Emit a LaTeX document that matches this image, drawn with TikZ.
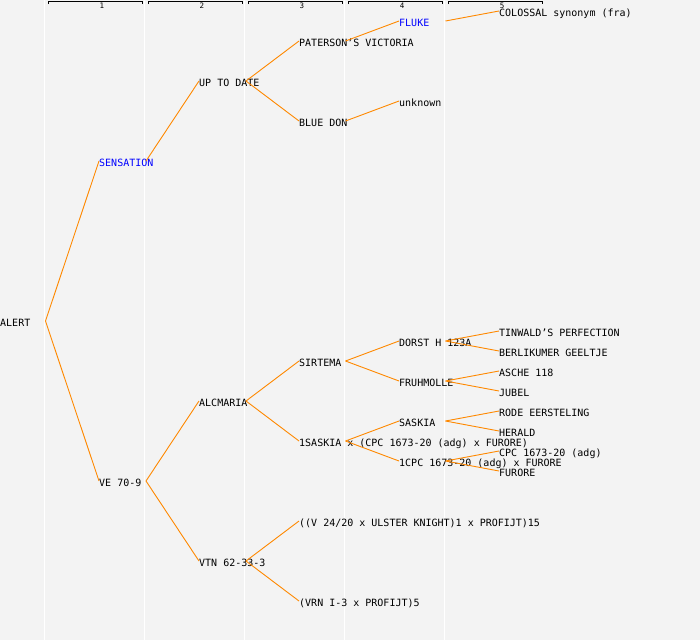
\documentclass[tikz,border=0pt]{standalone}
\usepackage{fontspec}
\newfontfamily\pedmono{DejaVu Sans Mono}
\definecolor{bgcol}{RGB}{243,243,243}
\definecolor{linkcol}{RGB}{255,136,0}
\definecolor{namecol}{RGB}{0,0,255}
\tikzset{
  lbl/.style={anchor=base west, inner sep=0pt, font=\pedmono\fontsize{10}{12}\selectfont, text=black},
  blu/.style={lbl, text=namecol},
  num/.style={inner sep=0pt, font=\pedmono\fontsize{7.5}{8}\selectfont},
  link/.style={draw=linkcol, line width=0.9pt},
  grid/.style={draw=white, line width=1pt},
  hdr/.style={draw=black, line width=0.9pt}
}
\newcommand\pedlink[3][47]{\draw[link] ([xshift=#1pt,yshift=5pt]#2.base west) -- ([yshift=5pt]#3.base west);}
\begin{document}
\begin{tikzpicture}[x=1pt,y=-1pt]
\useasboundingbox (0,0) rectangle (700,640);
\fill[bgcol] (0,0) rectangle (700,640);
% column lines
\foreach \gx in {44.5,144.5,244.5,344.5,444.5} \draw[grid] (\gx,0) -- (\gx,640);
% header
\foreach \k/\a/\b in {1/48.5/142.5,2/148.5/242.5,3/248.5/342.5,4/348.5/442.5,5/448.5/542.5}{
  \draw[hdr] (\a,4.2) -- (\a,1.5) -- (\b,1.5) -- (\b,4.2);
}
\node[num] (n1) at (102,5.8) {1};
\node[num] (n2) at (202,5.8) {2};
\node[num] (n3) at (302,5.8) {3};
\node[num] (n4) at (402,5.8) {4};
\node[num] (n5) at (502,5.8) {5};
% level 0
\node[lbl] (alert) at (0,326) {ALERT};
% level 1
\node[blu] (sens) at (99,166) {SENSATION};
\node[lbl] (ve) at (99,486) {VE 70-9};
% level 2
\node[lbl] (utd) at (199,86) {UP TO DATE};
\node[lbl] (alc) at (199,406) {ALCMARIA};
\node[lbl] (vtn) at (199,566) {VTN 62-33-3};
% level 3
\node[lbl] (pat) at (299,46) {PATERSON’S VICTORIA};
\node[lbl] (bdon) at (299,126) {BLUE DON};
\node[lbl] (sirt) at (299,366) {SIRTEMA};
\node[lbl] (sask1) at (299,446) {1SASKIA x (CPC 1673-20 (adg) x FURORE)};
\node[lbl] (vul) at (299,526) {((V 24/20 x ULSTER KNIGHT)1 x PROFIJT)15};
\node[lbl] (vrn) at (299,606) {(VRN I-3 x PROFIJT)5};
% level 4
\node[blu] (fluke) at (399,26) {FLUKE};
\node[lbl] (unk) at (399,106) {unknown};
\node[lbl] (dorst) at (399,346) {DORST H 123A};
\node[lbl] (fruh) at (399,386) {FRUHMOLLE};
\node[lbl] (sask) at (399,426) {SASKIA};
\node[lbl] (cpc1) at (399,466) {1CPC 1673-20 (adg) x FURORE};
% level 5
\node[lbl] (colo) at (499,16) {COLOSSAL synonym (fra)};
\node[lbl] (tin) at (499,336) {TINWALD’S PERFECTION};
\node[lbl] (berl) at (499,356) {BERLIKUMER GEELTJE};
\node[lbl] (asch) at (499,376) {ASCHE 118};
\node[lbl] (jub) at (499,396) {JUBEL};
\node[lbl] (rode) at (499,416) {RODE EERSTELING};
\node[lbl] (her) at (499,436) {HERALD};
\node[lbl] (cpc) at (499,456) {CPC 1673-20 (adg)};
\node[lbl] (fur) at (499,476) {FURORE};
% connectors
\pedlink[45.5]{alert}{sens}
\pedlink[45.5]{alert}{ve}
\pedlink{sens}{utd}
\pedlink{ve}{alc}
\pedlink{ve}{vtn}
\pedlink{utd}{pat}
\pedlink{utd}{bdon}
\pedlink{alc}{sirt}
\pedlink{alc}{sask1}
\pedlink{vtn}{vul}
\pedlink{vtn}{vrn}
\pedlink[46.5]{pat}{fluke}
\pedlink[46.5]{bdon}{unk}
\pedlink[46.5]{sirt}{dorst}
\pedlink[46.5]{sirt}{fruh}
\pedlink[46.5]{sask1}{sask}
\pedlink[46.5]{sask1}{cpc1}
\pedlink[46.5]{fluke}{colo}
\pedlink[46.5]{dorst}{tin}
\pedlink[46.5]{dorst}{berl}
\pedlink[46.5]{fruh}{asch}
\pedlink[46.5]{fruh}{jub}
\pedlink[46.5]{sask}{rode}
\pedlink[46.5]{sask}{her}
\pedlink[46.5]{cpc1}{cpc}
\pedlink[46.5]{cpc1}{fur}
\end{tikzpicture}
\end{document}
